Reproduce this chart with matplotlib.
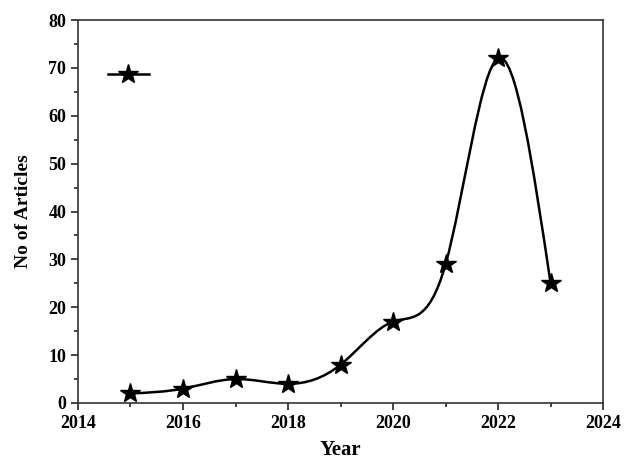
import numpy as np
import matplotlib.pyplot as plt
from matplotlib.path import Path
from matplotlib.patches import PathPatch
from matplotlib.lines import Line2D
from matplotlib.ticker import MultipleLocator

years = np.array([2015, 2016, 2017, 2018, 2019, 2020, 2021, 2022, 2023])
articles = np.array([2, 3, 5, 4, 8, 17, 29, 72, 25])

plt.rcParams['font.family'] = ['Liberation Serif', 'DejaVu Serif']
plt.rcParams['font.weight'] = 'bold'


def spline_path(x, y):
    """Natural cubic spline through the points, drawn as Bezier segments."""
    n = len(x) - 1
    h = np.diff(x).astype(float)
    d = np.diff(y) / h
    A = np.zeros((n + 1, n + 1))
    b = np.zeros(n + 1)
    A[0, 0] = A[n, n] = 1
    for i in range(1, n):
        A[i, i - 1] = h[i - 1]
        A[i, i] = 2 * (h[i - 1] + h[i])
        A[i, i + 1] = h[i]
        b[i] = 6 * (d[i] - d[i - 1])
    M = np.linalg.solve(A, b)
    t = np.empty(n + 1)
    t[:n] = d - h * (2 * M[:n] + M[1:]) / 6
    t[n] = d[-1] + h[-1] * (M[n - 1] + 2 * M[n]) / 6
    verts = [(x[0], y[0])]
    codes = [Path.MOVETO]
    for i in range(n):
        verts += [(x[i] + h[i] / 3, y[i] + t[i] * h[i] / 3),
                  (x[i + 1] - h[i] / 3, y[i + 1] - t[i + 1] * h[i] / 3),
                  (x[i + 1], y[i + 1])]
        codes += [Path.CURVE4] * 3
    return Path(verts, codes)


fig = plt.figure(figsize=(6.35, 4.63), dpi=100)
ax = fig.add_axes([0.1228, 0.1296, 0.827, 0.827])

ax.add_patch(PathPatch(spline_path(years, articles), facecolor='none',
                       edgecolor='black', linewidth=1.8))
ax.plot(years, articles, linestyle='none', marker='*', markersize=15,
        color='black')

ax.set_xlim(2014, 2024)
ax.set_ylim(0, 80)
ax.xaxis.set_major_locator(MultipleLocator(2))
ax.xaxis.set_minor_locator(MultipleLocator(1))
ax.yaxis.set_major_locator(MultipleLocator(10))
ax.yaxis.set_minor_locator(MultipleLocator(5))
ax.tick_params(which='major', direction='out', length=5, width=1.2,
               labelsize=13, color='#222222')
ax.tick_params(which='minor', direction='out', length=3, width=1.2,
               color='#222222')
for s in ax.spines.values():
    s.set_linewidth(1.2)
    s.set_color('#333333')

ax.set_xlabel('Year', fontsize=15, fontweight='bold', labelpad=6)
ax.set_ylabel('No of Articles', fontsize=14, fontweight='bold', labelpad=12)

handle = Line2D([], [], color='black', linewidth=1.8, marker='*',
                markersize=15)
ax.legend([handle], [''], loc='upper left', frameon=False,
          bbox_to_anchor=(0.033, 0.905), handlelength=2.95)

plt.savefig('out.png', dpi=100)
